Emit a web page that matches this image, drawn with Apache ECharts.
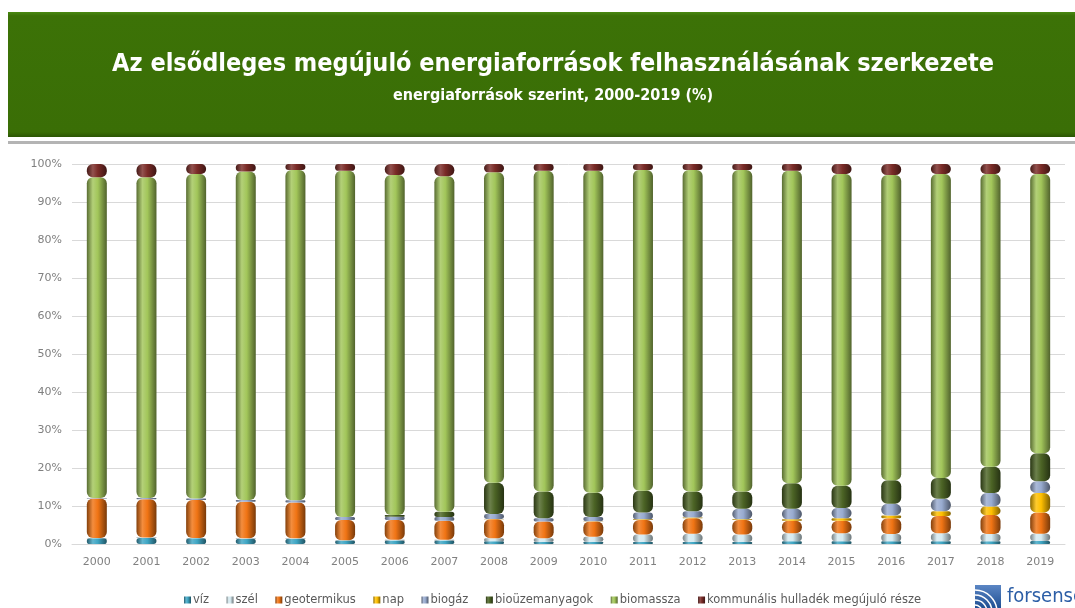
<!DOCTYPE html>
<html>
<head>
<meta charset="utf-8">
<script src="https://cdn.jsdelivr.net/npm/echarts@6/dist/echarts.min.js"></script>
<style>
html,body{margin:0;padding:0;background:#fff;}
#c{width:1075px;height:608px;}
</style>
</head>
<body>
<div id="c"></div>
<script>
const years = ['2000','2001','2002','2003','2004','2005','2006','2007','2008','2009','2010','2011','2012','2013','2014','2015','2016','2017','2018','2019'];
const yTicks = [0,10,20,30,40,50,60,70,80,90,100];
const viz        = [1.5,1.6,1.5,1.4,1.4,0.9,0.9,0.9,0.7,0.6,0.6,0.5,0.5,0.5,0.7,0.7,0.7,0.7,0.7,0.8];
const szel       = [0.1,0.1,0.1,0.1,0.1,0.1,0.2,0.2,0.8,0.9,1.3,2.0,2.2,2.0,2.1,2.1,1.9,2.1,1.9,1.9];
const geotermikus= [10.4,10.1,10.0,9.6,9.4,5.3,5.2,5.0,5.0,4.4,4.0,3.8,4.1,3.8,3.3,3.3,4.2,4.6,5.0,5.6];
const nap        = [0,0,0,0,0,0,0,0,0.1,0.05,0.1,0.2,0.2,0.2,0.4,0.7,0.7,1.2,2.3,5.1];
const biogaz     = [0.1,0.3,0.4,0.5,0.6,0.8,0.9,1.0,1.3,0.85,1.1,1.8,1.6,2.8,2.8,2.7,3.1,3.3,3.5,3.1];
const biouzem    = [0,0,0,0,0,0,0.4,1.4,8.2,7.0,6.4,5.7,5.2,4.5,6.7,5.8,6.2,5.5,6.9,7.4];
const biomassza  = [84.4,84.4,85.4,86.4,86.9,91.1,89.5,88.3,81.7,84.4,84.7,84.4,84.6,84.6,82.2,82.1,80.3,80.0,77.1,73.5];
const kommunalis = [3.5,3.5,2.6,2.0,1.6,1.8,2.9,3.2,2.2,1.8,1.8,1.6,1.6,1.6,1.8,2.6,2.9,2.6,2.6,2.6];

const seriesNames = ['víz','szél','geotermikus','nap','biogáz','bioüzemanyagok','biomassza','kommunális hulladék megújuló része'];
const seriesData = [viz,szel,geotermikus,nap,biogaz,biouzem,biomassza,kommunalis];
const seriesColors = ['#3fa6c4','#d6eaf0','#f07414','#ffc000','#98abcf','#4c6425','#a2c65a','#7a2b27'];

function shade(hex, f){
  const n = parseInt(hex.slice(1),16);
  let r=(n>>16)&255, g=(n>>8)&255, b=n&255;
  if (f<1){ r*=f; g*=f; b*=f; }
  else { const t=f-1; r+= (255-r)*t; g+=(255-g)*t; b+=(255-b)*t; }
  const h=v=>('0'+Math.round(Math.max(0,Math.min(255,v))).toString(16)).slice(-2);
  return '#'+h(r)+h(g)+h(b);
}
function cyl(c){
  return new echarts.graphic.LinearGradient(0,0,1,0,[
    {offset:0,color:shade(c,0.55)},
    {offset:0.3,color:shade(c,1.18)},
    {offset:0.55,color:c},
    {offset:1,color:shade(c,0.5)}
  ]);
}

const chart = echarts.init(document.getElementById('c'));
const series = seriesNames.map((name,i)=>({
  name: name,
  type: 'bar',
  stack: 'total',
  barWidth: 20,
  data: seriesData[i],
  itemStyle: { color: cyl(seriesColors[i]), borderRadius: 6 }
}));

const titleFont = '"Liberation Sans Narrow","DejaVu Sans Condensed","Noto Sans",sans-serif';

chart.setOption({
  animation:false,
  backgroundColor:'#ffffff',
  graphic:[
    {type:'rect', shape:{x:8,y:12,width:1080,height:125},
     style:{fill:new echarts.graphic.LinearGradient(0,0,0,1,[
       {offset:0,color:'#4a8a12'},{offset:0.03,color:'#3c7207'},{offset:0.96,color:'#3a6e06'},{offset:1,color:'#2c5604'}])},z:0},
    {type:'rect', shape:{x:8,y:141,width:1080,height:3}, style:{fill:'#b4b4b4'}},
    {type:'rect', shape:{x:975,y:585,width:26,height:23},
     style:{fill:new echarts.graphic.LinearGradient(0,0,0,1,[{offset:0,color:'#5b86c4'},{offset:1,color:'#1f4f93'}])}},
    {type:'group', children:[0,1,2,3].map(k=>({
      type:'arc', shape:{cx:975,cy:612,r:7+k*5,startAngle:-Math.PI/2,endAngle:0},
      style:{stroke:'#ffffff',lineWidth:1.5,fill:null}}))},
    {type:'text', x:1007, y:597,
     style:{text:'forsense', fill:'#2c5ea6', font:'20px ' + titleFont, verticalAlign:'middle'}}
  ],
  title:[
    {text:'Az elsődleges megújuló energiaforrások felhasználásának szerkezete',
     left:548, top:47, textAlign:'center',
     textStyle:{color:'#ffffff',fontSize:25,fontWeight:'bold',fontFamily:titleFont}},
    {text:'energiaforrások szerint, 2000-2019 (%)',
     left:548, top:83, textAlign:'center',
     textStyle:{color:'#ffffff',fontSize:16,fontWeight:'bold',fontFamily:titleFont}}
  ],
  legend:{
    data:seriesNames,
    left:179, top:589,
    itemWidth:7, itemHeight:7, itemGap:17.5,
    icon:'rect',
    textStyle:{color:'#595959',fontSize:11.5,fontFamily:'"DejaVu Sans",sans-serif',padding:[0,0,0,-3]}
  },
  grid:{left:72,right:10,top:164,bottom:64,containLabel:false},
  xAxis:{
    type:'category', data:years,
    axisTick:{show:false},
    axisLine:{show:true,lineStyle:{color:'#d9d9d9',width:1}},
    axisLabel:{color:'#808080',fontSize:11,fontFamily:'"DejaVu Sans",sans-serif',margin:13}
  },
  yAxis:{
    type:'value', min:yTicks[0], max:yTicks[yTicks.length-1], interval:10,
    axisLine:{show:false}, axisTick:{show:false},
    splitLine:{lineStyle:{color:'#d9d9d9',width:1}},
    axisLabel:{formatter:'{value}%',color:'#808080',fontSize:11,fontFamily:'"DejaVu Sans",sans-serif',margin:10}
  },
  series:series
});
</script>
</body>
</html>
